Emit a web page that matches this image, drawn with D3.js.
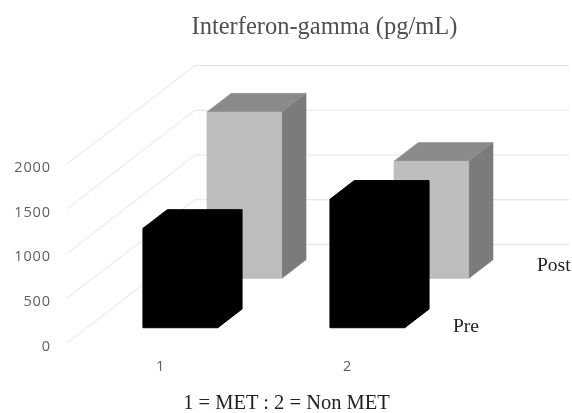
<!DOCTYPE html>
<html>
<head>
<meta charset="utf-8">
<script src="https://cdn.jsdelivr.net/npm/d3@7"></script>
<style>
  html, body { margin: 0; padding: 0; background: #fff; overflow: hidden; }
  svg { display: block; filter: blur(0.5px); }
  .serif { font-family: "Liberation Serif", serif; }
  .tick text { font-family: "Open Sans", sans-serif; font-size: 14.5px; fill: #5f5f5f; letter-spacing: 0.9px; }
</style>
</head>
<body>
<div id="chart"></div>
<script>
var categories = ["1", "2"];
var seriesNames = ["Pre", "Post"];
var preValues = [1110, 1435];
var postValues = [1860, 1310];
var yTicks = [0, 500, 1000, 1500, 2000];

var width = 572, height = 413;
var front = { left: 67, right: 441, bottom: 343, top: 164 };
var depth = { x: 128, y: -98.5 };

var svg = d3.select("#chart").append("svg")
  .attr("width", width)
  .attr("height", height);

var xScale = d3.scaleBand()
  .domain(categories)
  .range([front.left, front.right])
  .paddingInner(0.6)
  .paddingOuter(0.3);

var yScale = d3.scaleLinear()
  .domain([0, 2000])
  .range([front.bottom, front.top]);

// 0 = front of the floor, 1 = back wall
var zScale = d3.scaleBand()
  .domain(seriesNames)
  .range([0, 1])
  .paddingInner(0.62)
  .paddingOuter(0.31);

var project = function(x, value, z) {
  return [x + z * depth.x, yScale(value) + z * depth.y];
};

// side wall and back wall grid lines
var grid = svg.append("g").attr("fill", "none").attr("stroke", "#e4e4e4").attr("stroke-width", 1);
grid.selectAll("path")
  .data(yTicks)
  .join("path")
  .attr("d", function(d) {
    return d3.line()([
      project(front.left, d, 0),
      project(front.left, d, 1),
      project(front.right, d, 1)
    ]);
  });

var drawBars = function(name, values, colors) {
  var z0 = zScale(name);
  var z1 = z0 + zScale.bandwidth();
  var bars = svg.append("g").attr("class", "series").selectAll("g")
    .data(values)
    .join("g");

  var poly = function(fn) {
    return function(d, i) {
      var x0 = xScale(categories[i]);
      var x1 = x0 + xScale.bandwidth();
      return fn(x0, x1, d).join(" ");
    };
  };

  bars.append("polygon")
    .attr("fill", colors.side)
    .attr("stroke", colors.side)
    .attr("stroke-width", colors.seam)
    .attr("points", poly(function(x0, x1, d) {
      return [project(x1, 0, z0), project(x1, d, z0), project(x1, d, z1), project(x1, 0, z1)];
    }));

  bars.append("polygon")
    .attr("fill", colors.top)
    .attr("stroke", colors.top)
    .attr("stroke-width", colors.seam)
    .attr("points", poly(function(x0, x1, d) {
      return [project(x0, d, z0), project(x1, d, z0), project(x1, d, z1), project(x0, d, z1)];
    }));

  bars.append("polygon")
    .attr("fill", colors.face)
    .attr("stroke", colors.face)
    .attr("stroke-width", colors.seam)
    .attr("points", poly(function(x0, x1, d) {
      return [project(x0, 0, z0), project(x1, 0, z0), project(x1, d, z0), project(x0, d, z0)];
    }));
};

drawBars("Post", postValues, { face: "#bdbdbd", top: "#8a8a8a", side: "#7b7b7b", seam: 0.5 });
drawBars("Pre", preValues, { face: "#000", top: "#000", side: "#000", seam: 1 });

// axes
var yAxis = svg.append("g")
  .attr("transform", "translate(" + front.left + ",0)")
  .call(d3.axisLeft(yScale).tickValues(yTicks).tickFormat(d3.format("d")).tickSize(0).tickPadding(16));
yAxis.select(".domain").remove();
yAxis.selectAll(".tick text").attr("dy", "0.5em");

var xAxis = svg.append("g")
  .attr("transform", "translate(0,361)")
  .call(d3.axisBottom(xScale).tickSize(0).tickPadding(0));
xAxis.select(".domain").remove();

// titles
svg.append("text")
  .attr("class", "serif")
  .attr("x", 324.5)
  .attr("y", 34)
  .attr("text-anchor", "middle")
  .attr("font-size", 24.5)
  .attr("fill", "#505050")
  .text("Interferon-gamma (pg/mL)");

svg.append("text")
  .attr("class", "serif")
  .attr("x", 286.5)
  .attr("y", 408.5)
  .attr("text-anchor", "middle")
  .attr("font-size", 20.5)
  .attr("fill", "#222")
  .text("1 = MET : 2 = Non MET");

// series labels sit on the floor
svg.append("text").attr("class", "serif")
  .attr("x", 453).attr("y", 332)
  .attr("font-size", 19.5).attr("fill", "#222")
  .text(seriesNames[0]);

svg.append("text").attr("class", "serif")
  .attr("x", 537).attr("y", 271)
  .attr("font-size", 19.5).attr("fill", "#222")
  .text(seriesNames[1]);
</script>
</body>
</html>
